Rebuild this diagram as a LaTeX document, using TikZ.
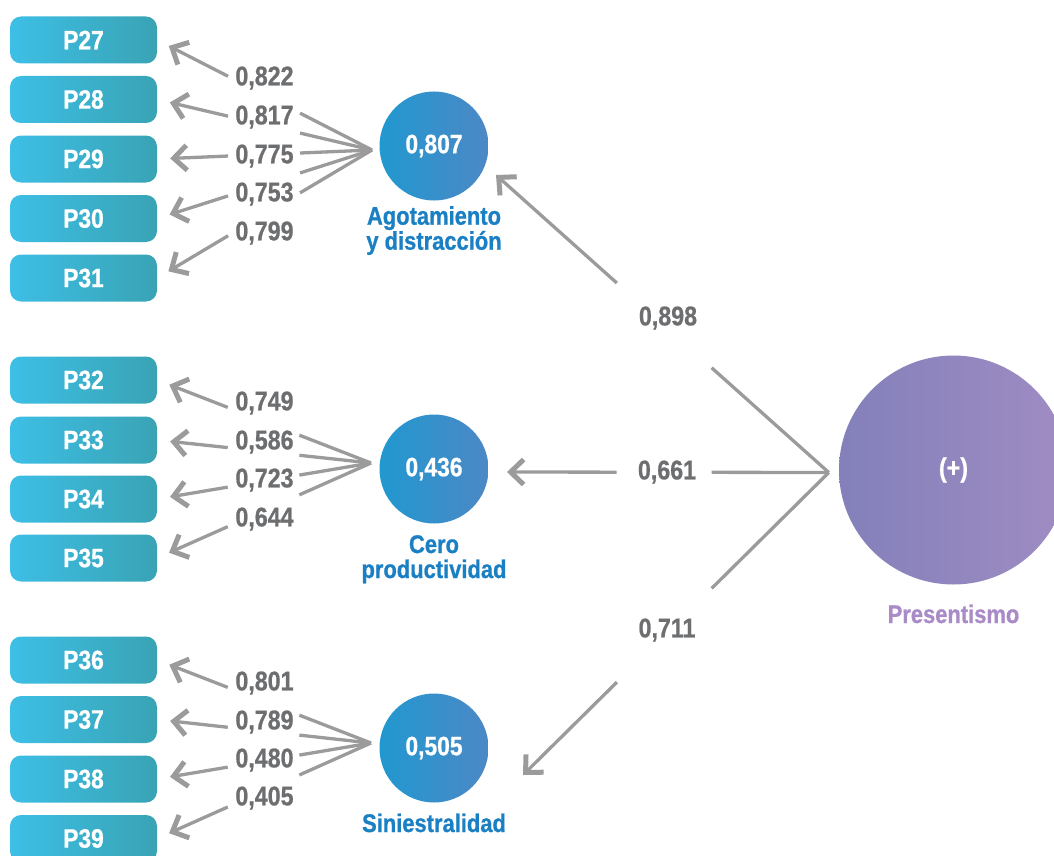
\documentclass[tikz,border=0pt]{standalone}
\usepackage{fontspec}
\setmainfont{Liberation Sans}[FakeStretch=0.86,FakeBold=0.8]
\usetikzlibrary{arrows.meta,calc}
\definecolor{boxL}{HTML}{3DBFE6}
\definecolor{boxR}{HTML}{39A3B4}
\definecolor{circL}{HTML}{2198D0}
\definecolor{circR}{HTML}{4C88C5}
\definecolor{presL}{HTML}{8380BA}
\definecolor{presR}{HTML}{A08CC3}
\definecolor{lgray}{HTML}{9B9B9B}
\definecolor{numgray}{HTML}{6D6E70}
\definecolor{lblue}{HTML}{1B7FC3}
\definecolor{lpurple}{HTML}{A88BC7}
\begin{document}
\begin{tikzpicture}[x=1pt,y=-1pt,
  pbox/.style={rounded corners=11pt, minimum width=147pt, minimum height=47pt, inner sep=0pt,
    left color=boxL, right color=boxR, text=white, font=\bfseries\fontsize{26.5}{30}\selectfont},
  lv/.style={circle, minimum size=109pt, inner sep=0pt, left color=circL, right color=circR,
    text=white, font=\bfseries\fontsize{26.5}{30}\selectfont},
  num/.style={text=numgray, font=\bfseries\fontsize{27}{30}\selectfont, inner sep=0pt},
  lvlabel/.style={text=lblue, align=center, font=\bfseries\fontsize{25.5}{25}\selectfont, inner sep=0pt},
  gl/.style={draw=lgray, line width=3.3pt},
  garrow/.style={gl, -{Straight Barb[length=13pt,width=25pt,line width=5pt]}},
  ga/.style={garrow, shorten >=13pt},
]
\useasboundingbox (0,0) rectangle (1054,856);
\clip (0,0) rectangle (1054,856);

% indicator boxes
\node[pbox] (P27) at (83.5,40) {P27};
\node[pbox] (P28) at (83.5,99.5) {P28};
\node[pbox] (P29) at (83.5,159) {P29};
\node[pbox] (P30) at (83.5,218.5) {P30};
\node[pbox] (P31) at (83.5,278) {P31};
\node[pbox] (P32) at (83.5,380) {P32};
\node[pbox] (P33) at (83.5,440) {P33};
\node[pbox] (P34) at (83.5,499) {P34};
\node[pbox] (P35) at (83.5,558) {P35};
\node[pbox] (P36) at (83.5,660) {P36};
\node[pbox] (P37) at (83.5,719.5) {P37};
\node[pbox] (P38) at (83.5,779) {P38};
\node[pbox] (P39) at (83.5,838.5) {P39};

% latent variables
\node[lv] (A) at (434,146) {0,807};
\node[lv] (C) at (434,469) {0,436};
\node[lv] (S) at (434,748) {0,505};
\node[circle, minimum size=229pt, inner sep=0pt, left color=presL, right color=presR,
  text=white, font=\bfseries\fontsize{27}{30}\selectfont] (Pr) at (953.5,470) {(+)};

\node[lvlabel, anchor=north] (lA) at (434,206) {Agotamiento\\y distracción};
\node[lvlabel, anchor=north] (lC) at (434,535) {Cero\\productividad};
\node[lvlabel, anchor=base] (lS) at (434,832) {Siniestralidad};
\node[lvlabel, anchor=base, text=lpurple] (lP) at (953.5,623) {Presentismo};

% convergence points and arrow tips
\coordinate (cA) at ($(A.center)+(-62,4)$);
\coordinate (cC) at ($(C.center)+(-63,-6)$);
\coordinate (cS) at ($(S.center)+(-63,-5)$);
\coordinate (cP) at ($(Pr.west)+(-10,2.5)$);
\coordinate (tA) at ($(A.center)+(62,29)$);
\coordinate (tC) at ($(C.center)+(73,3)$);
\coordinate (tS) at ($(S.center)+(89,27)$);

% loadings
\foreach \p in {27,...,31}{
  \draw[gl] (cA) -- ($(cA)!0.335!(P\p.east)$);
  \draw[ga] ($(cA)!0.67!(P\p.east)$) -- (P\p.east);
}
\foreach \p in {32,...,35}{
  \draw[gl] (cC) -- ($(cC)!0.335!(P\p.east)$);
  \draw[ga] ($(cC)!0.67!(P\p.east)$) -- (P\p.east);
}
\foreach \p in {36,...,39}{
  \draw[gl] (cS) -- ($(cS)!0.335!(P\p.east)$);
  \draw[ga] ($(cS)!0.67!(P\p.east)$) -- (P\p.east);
}

\node[num] (n27) at (264.5,78) {0,822};
\node[num] (n28) at (264.5,117) {0,817};
\node[num] (n29) at (264.5,156) {0,775};
\node[num] (n30) at (264.5,194) {0,753};
\node[num] (n31) at (264.5,233) {0,799};
\node[num] (n32) at (264.5,403) {0,749};
\node[num] (n33) at (264.5,442) {0,586};
\node[num] (n34) at (264.5,480) {0,723};
\node[num] (n35) at (264.5,519) {0,644};
\node[num] (n36) at (264.5,683) {0,801};
\node[num] (n37) at (264.5,722) {0,789};
\node[num] (n38) at (264.5,760) {0,480};
\node[num] (n39) at (264.5,798) {0,405};

% structural paths
\draw[gl] (cP) -- ($(cP)!0.352!(tA)$);
\draw[garrow] ($(cP)!0.637!(tA)$) -- (tA);
\draw[gl] (cP) -- ($(cP)!0.364!(tC)$);
\draw[garrow] ($(cP)!0.659!(tC)$) -- (tC);
\draw[gl] (cP) -- ($(cP)!0.383!(tS)$);
\draw[garrow] ($(cP)!0.693!(tS)$) -- (tS);

\node[num] (nA) at (668,318) {0,898};
\node[num] (nC) at (667,472) {0,661};
\node[num] (nS) at (667,630) {0,711};
\end{tikzpicture}
\end{document}
